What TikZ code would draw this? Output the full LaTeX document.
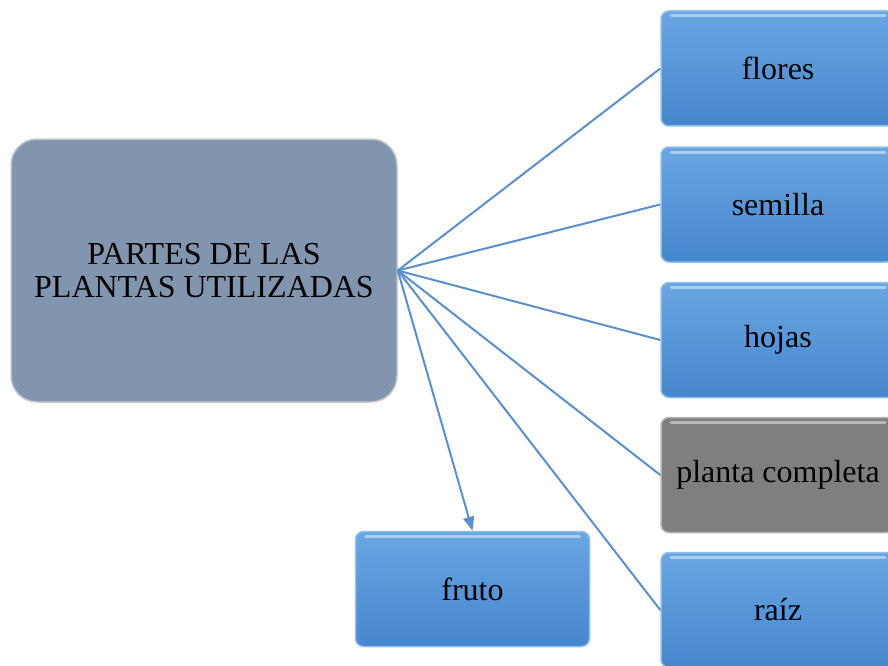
\documentclass[tikz,border=0pt]{standalone}
\usepackage{fontspec}
\setmainfont{Liberation Serif}
\usetikzlibrary{arrows.meta}
\definecolor{mainfill}{HTML}{8195AE}
\definecolor{mainedge}{HTML}{C4C8CC}
\definecolor{parttop}{HTML}{6AA6E2}
\definecolor{partbot}{HTML}{4686CE}
\definecolor{partedge}{HTML}{8FC0EC}
\definecolor{grayfill}{HTML}{7F7F7F}
\definecolor{grayedge}{HTML}{B4B4B4}
\definecolor{linkcol}{HTML}{5A8FCB}
\begin{document}
\begin{tikzpicture}[x=1pt,y=-1pt,
    every node/.style={font=\fontsize{32}{33}\selectfont},
    mainbox/.style={draw=mainedge,line width=1.5pt,fill=mainfill,rounded corners=26pt,
      minimum width=386pt,minimum height=263pt,inner sep=0pt,align=center},
    part/.style={draw=partedge,line width=1.5pt,rounded corners=8pt,
      top color=parttop,bottom color=partbot,
      minimum width=234pt,minimum height=115pt,inner sep=0pt,
      path picture={\draw[white,opacity=0.45,line width=3pt,line cap=round]
        ([xshift=10pt,yshift=-5pt]path picture bounding box.north west) --
        ([xshift=-10pt,yshift=-5pt]path picture bounding box.north east);}},
    wholepart/.style={part,draw=grayedge,top color=grayfill,bottom color=grayfill},
    link/.style={draw=linkcol,line width=2pt}]
  \useasboundingbox (0,0) rectangle (888,666);
  \clip (0,0) rectangle (888,666);
  \node[mainbox] (main) at (204,270.5) {PARTES DE LAS\\PLANTAS UTILIZADAS};
  \node[part] (flores) at (778,68.5) {flores};
  \node[part] (semilla) at (778,204.5) {semilla};
  \node[part] (hojas) at (778,340) {hojas};
  \node[wholepart] (completa) at (778,475) {planta completa};
  \node[part] (raiz) at (778,610) {raíz};
  \node[part] (fruto) at (472.5,589) {fruto};
  \begin{scope}[link]
    \draw (main.east) to (flores.west);
    \draw (main.east) to (semilla.west);
    \draw (main.east) to (hojas.west);
    \draw (main.east) to (completa.west);
    \draw (main.east) to (raiz.west);
    \draw[-{Triangle[length=14pt,width=11pt]}] (main.east) to (fruto.north);
  \end{scope}
\end{tikzpicture}
\end{document}
